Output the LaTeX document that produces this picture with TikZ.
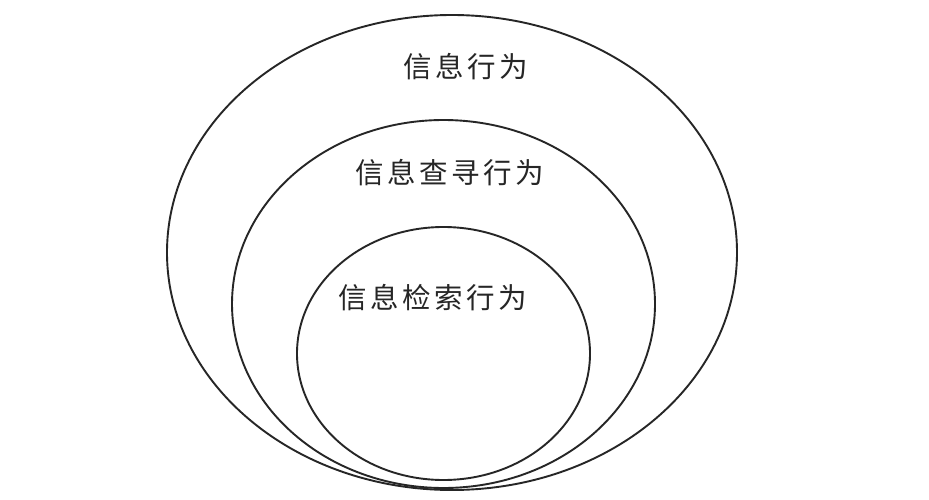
\documentclass[tikz,border=0pt]{standalone}
\usepackage{fontspec}
\newfontfamily\cjk[LetterSpace=12]{Noto Sans CJK SC}
\usetikzlibrary{shapes.geometric}
\begin{document}
\begin{tikzpicture}[x=1pt,y=-1pt,
  ring/.style={ellipse, draw=black!85, line width=1.9pt, inner sep=0pt},
  lbl/.style={font=\cjk\fontsize{28.5}{31}\selectfont, text=black!85, inner sep=0pt}]
\useasboundingbox[fill=white] (0,0) rectangle (929,500);
\node[ring, minimum width=570pt, minimum height=475pt] (outer) at (452,252.5) {};
\node[ring, minimum width=423pt, minimum height=368pt] (mid) at (443.5,304) {};
\node[ring, minimum width=293pt, minimum height=253pt] (inner) at (443.5,353.5) {};
\node[lbl] (t1) at (466,67) {信息行为};
\node[lbl] (t2) at (450,173) {信息查寻行为};
\node[lbl] (t3) at (433,298) {信息检索行为};
\end{tikzpicture}
\end{document}
